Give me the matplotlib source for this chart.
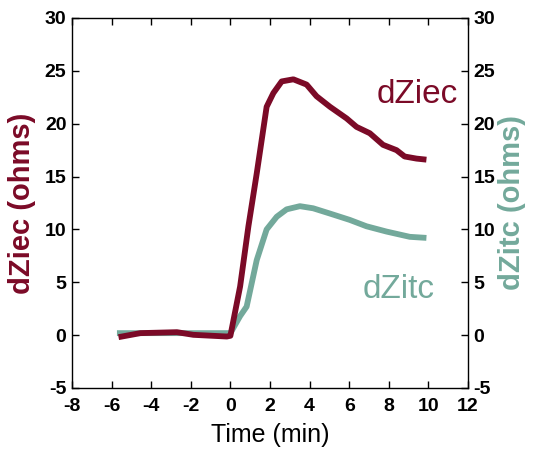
import matplotlib
matplotlib.use("Agg")
import matplotlib.pyplot as plt

plt.rcParams['font.family'] = ['Liberation Sans', 'DejaVu Sans']
plt.rcParams['axes.unicode_minus'] = False

red_x = [-5.65, -4.55, -2.7, -1.87, -0.18, 0.0, 0.49, 0.91, 1.33, 1.83, 2.17, 2.59, 3.18,
         3.85, 4.35, 5.03, 5.87, 6.37, 7.04, 7.71, 8.39, 8.8, 9.4, 9.9]
red_y = [-0.19, 0.19, 0.28, 0.03, -0.13, -0.06, 4.6, 10.3, 15.3, 21.6, 22.9, 24.0, 24.2,
         23.7, 22.6, 21.6, 20.5, 19.7, 19.1, 18.0, 17.5, 16.9, 16.7, 16.6]
teal_x = [-5.73, 0.0, 0.49, 0.82, 1.33, 1.83, 2.34, 2.84, 3.51, 4.18, 5.03, 6.03, 6.87,
          7.88, 9.06, 9.9]
teal_y = [0.19, 0.19, 1.8, 2.7, 7.1, 10.0, 11.2, 11.9, 12.2, 12.0, 11.5, 10.9, 10.3,
          9.8, 9.3, 9.2]

xticks = [-8, -6, -4, -2, 0, 2, 4, 6, 8, 10, 12]
yticks = [-5, 0, 5, 10, 15, 20, 25, 30]

RED = '#7b0a27'
TEAL = '#73a99b'

fig = plt.figure(figsize=(5.41, 4.57), dpi=100)
ax = fig.add_axes([72/541, 1-388/457, (468-72)/541, (388-18)/457])

ax.plot(teal_x, teal_y, color=TEAL, lw=4.2, solid_capstyle='butt')
ax.plot(red_x, red_y, color=RED, lw=4.2, solid_capstyle='butt')

ax.set_xlim(-8, 12)
ax.set_ylim(-5, 30)
ax.set_xticks(xticks)
ax.set_yticks(yticks)
ax.tick_params(direction='in', length=5, width=1, top=True, right=True,
               labelright=True, labelsize=14)
ax.tick_params(axis='x', pad=7)
ax.tick_params(axis='y', pad=4)
for lab in ax.get_xticklabels() + ax.get_yticklabels():
    lab.set_fontweight('bold')
for s in ax.spines.values():
    s.set_linewidth(1)

ax.set_xlabel('Time (min)', fontsize=18, labelpad=6)
ax.text(-0.125, 0.5, 'dZiec (ohms)', transform=ax.transAxes, rotation=90,
        fontsize=21, fontweight='bold', color=RED, ha='center', va='center')
ax.text(1.11, 0.5, 'dZitc (ohms)', transform=ax.transAxes, rotation=90,
        fontsize=21, fontweight='bold', color=TEAL, ha='center', va='center')

ax.text(7.4, 22.8, 'dZiec', fontsize=24, color=RED, ha='left', va='center')
ax.text(6.7, 4.3, 'dZitc', fontsize=24, color=TEAL, ha='left', va='center')

fig.savefig('out.png', dpi=100)
